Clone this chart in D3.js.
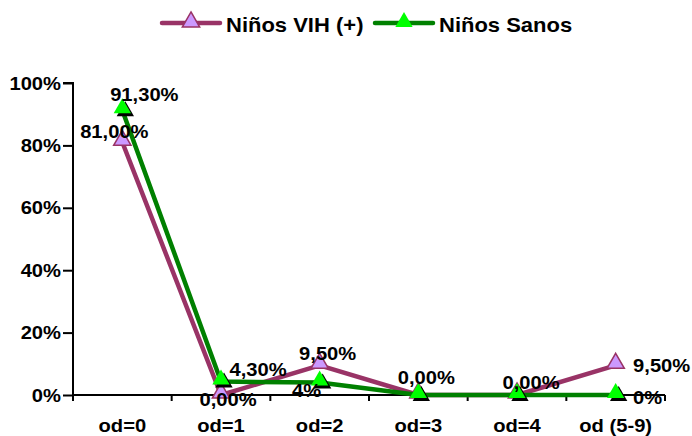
<!DOCTYPE html>
<html><head><meta charset="utf-8">
<script src="https://cdn.jsdelivr.net/npm/d3@7"></script>
<style>body{margin:0;background:#fff}text{font-family:"Liberation Sans",Arial,sans-serif;font-weight:bold;fill:#000}</style>
</head><body><svg id="c" width="692" height="436"></svg>
<script>
const categories = ["od=0","od=1","od=2","od=3","od=4","od (5-9)"];
const seriesNames = ["Niños VIH (+)","Niños Sanos"];
const vih = [81, 0, 9.5, 0, 0, 9.5];
const sanos = [91.3, 4.3, 4, 0, 0, 0];
const vihLabels = ["81,00%","0,00%","9,50%","0,00%","0,00%","9,50%"];
const sanosLabels = ["91,30%","4,30%","4%","","","0%"];
const yTicks = [0,20,40,60,80,100];

// label offsets (layout only)
const vihOff = [[-8,-4],[7,11],[8,-5],[8,-11],[14,-6],[46,7]];
const sanosOff = [[22,-9],[37,-6],[-13,14],[0,0],[0,0],[32,9]];

const svg = d3.select("#c");
const x0 = 73, x1 = 665, yTop = 83, yBot = 395;
const x = d3.scaleBand().domain(categories).range([x0, x1]);
const y = d3.scaleLinear().domain([0,100]).range([yBot, yTop]);
const cx = c => x(c) + x.bandwidth()/2;
const SX = 1.12;

function txt(g, px, py, s, size, anchor, sx){
  return g.append("g").attr("transform",`translate(${px},${py}) scale(${sx||SX},1)`)
    .append("text").attr("text-anchor",anchor||"middle").style("font-size",size+"px").text(s);
}

// y axis
const ya = svg.append("g").attr("transform",`translate(${x0},0)`)
  .call(d3.axisLeft(y).tickValues(yTicks).tickFormat("").tickSize(10));
ya.select(".domain").attr("stroke","#000").attr("stroke-width",2).attr("d",`M-10,${yTop}H0V${yBot}`);
ya.selectAll(".tick line").attr("stroke","#000").attr("stroke-width",2);
yTicks.forEach(t=>txt(svg, 61, y(t)+6.5, t+"%", 18, "end"));

// x axis
const xa = svg.append("g").attr("transform",`translate(0,${yBot})`);
xa.append("line").attr("x1",x0).attr("x2",x1).attr("stroke","#000").attr("stroke-width",2);
const tickPos = categories.map(c=>x(c)).concat([x1]);
xa.selectAll("line.t").data(tickPos).join("line").attr("class","t")
  .attr("x1",d=>d).attr("x2",d=>d).attr("y1",0).attr("y2",6).attr("stroke","#000").attr("stroke-width",2);
categories.forEach(c=>txt(svg, cx(c), yBot+37, c, 18));

const line = d3.line().x((d,i)=>cx(categories[i])).y(d=>y(d));
const tri = d3.symbol().type(d3.symbolTriangle).size(130);

// VIH series
svg.append("path").datum(vih).attr("d",line).attr("fill","none").attr("stroke","#993366").attr("stroke-width",4.5).attr("stroke-linejoin","round");
svg.selectAll("path.mv").data(vih).join("path").attr("class","mv").attr("d",tri)
  .attr("transform",(d,i)=>`translate(${cx(categories[i])},${y(d)-2})`)
  .attr("fill","#CC99FF").attr("stroke","#993366").attr("stroke-width",1.5);

// Sanos series
svg.append("path").datum(sanos).attr("d",line).attr("fill","none").attr("stroke","#008000").attr("stroke-width",4.5).attr("stroke-linejoin","round");
svg.selectAll("path.ms").data(sanos).join("path").attr("class","ms").attr("d",tri)
  .attr("transform",(d,i)=>`translate(${cx(categories[i])+3},${y(d)+1})`).attr("fill","#000");
svg.selectAll("path.mg").data(sanos).join("path").attr("class","mg").attr("d",tri)
  .attr("transform",(d,i)=>`translate(${cx(categories[i])},${y(d)-2})`).attr("fill","#00FF00");

// labels
function labels(vals, labs, off){
  const g = svg.append("g");
  vals.forEach((d,i)=>{ if(labs[i]) txt(g, cx(categories[i])+off[i][0], y(d)+off[i][1], labs[i], 18); });
}
labels(vih, vihLabels, vihOff);
labels(sanos, sanosLabels, sanosOff);

// legend
const lg = svg.append("g");
const items = [{n:seriesNames[0],lx:162,stroke:"#993366",fill:"#CC99FF",sh:false},
               {n:seriesNames[1],lx:375,stroke:"#008000",fill:"#00FF00",sh:true}];
items.forEach(it=>{
  lg.append("line").attr("x1",it.lx).attr("x2",it.lx+58).attr("y1",23).attr("y2",23)
    .attr("stroke",it.stroke).attr("stroke-width",4.5).attr("stroke-linecap","round");
  const t = lg.append("path").attr("d",tri).attr("transform",`translate(${it.lx+29},22)`).attr("fill",it.fill);
  if(!it.sh) t.attr("stroke",it.stroke).attr("stroke-width",1.5);
  txt(lg, it.lx+64, 32, it.n, 20, "start", 1.1);
});
</script></body></html>
